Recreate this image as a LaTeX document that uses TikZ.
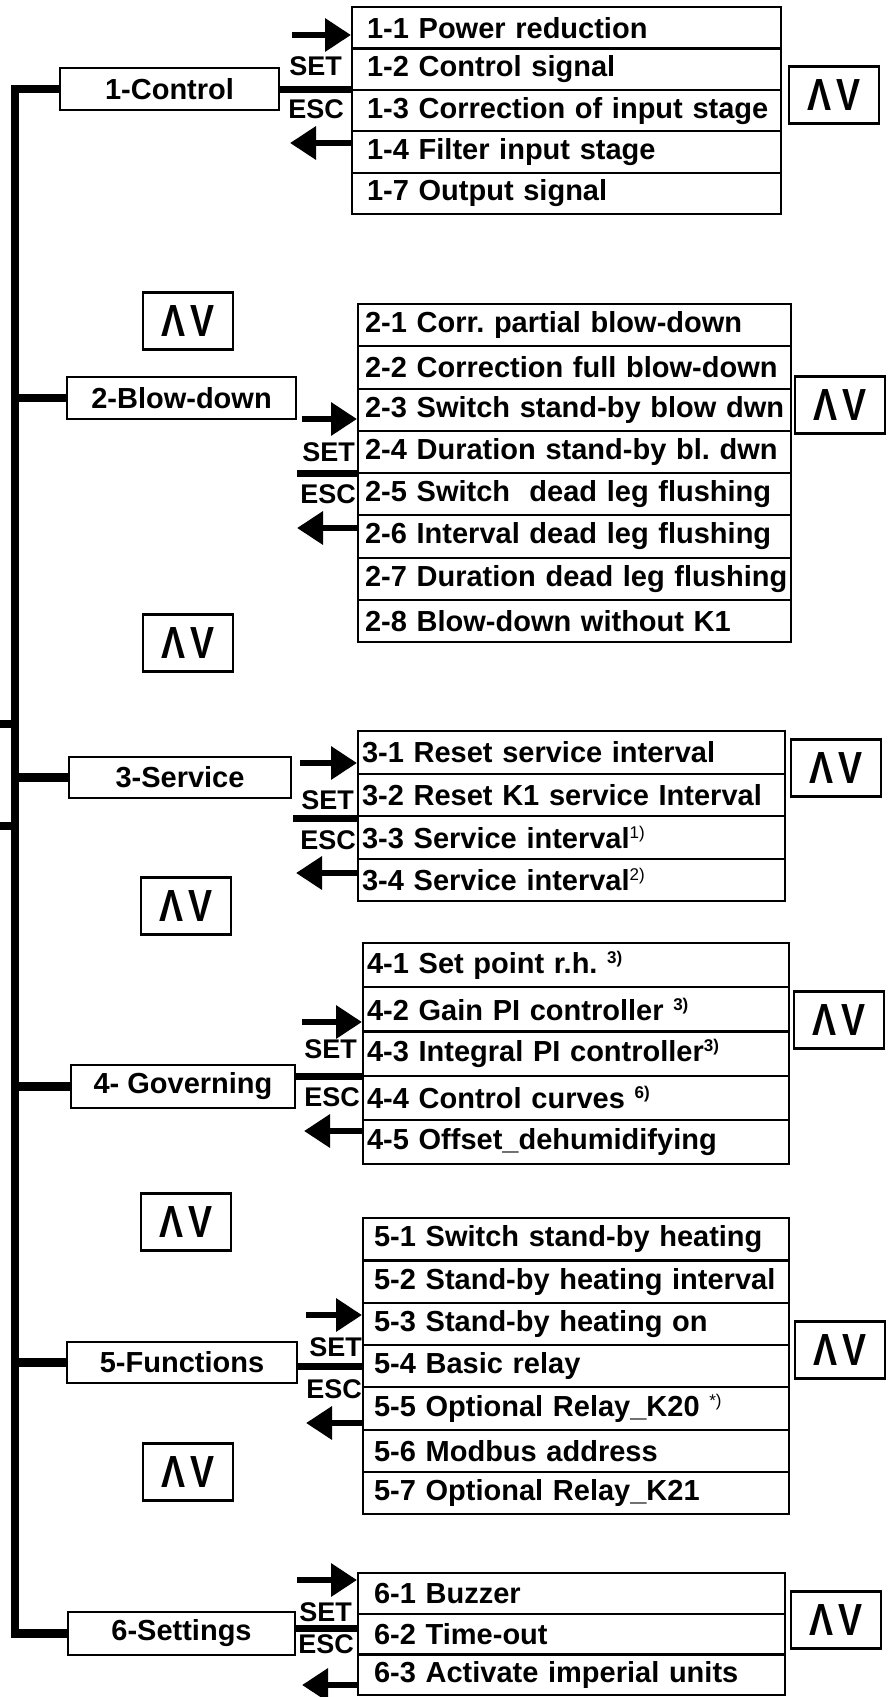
\documentclass[tikz,border=0pt]{standalone}
\usepackage{fontspec}
\setmainfont{Liberation Sans}
\usetikzlibrary{arrows.meta}
\frenchspacing
\newcommand\itemfont{\fontsize{29}{34}\selectfont\bfseries\frenchspacing}
\newcommand\keyfont{\fontsize{27}{30}\selectfont\bfseries}
\newcommand\supx[1]{\raisebox{10pt}{\fontsize{17}{17}\selectfont #1}}
\newcommand\supm[1]{\raisebox{10pt}{\fontsize{17}{17}\selectfont\mdseries #1}}
\newcommand\updown{\scalebox{0.8}[1]{Λ\hspace{7pt}V}}
\tikzset{
  itm/.style={draw, line width=2.2pt, anchor=north west, inner xsep=0pt, inner ysep=0pt,
              align=left, font=\itemfont},
  lbl/.style={draw, line width=2.2pt, inner sep=0pt, font=\itemfont},
  nav/.style={draw, line width=2.2pt, inner sep=0pt, minimum width=90pt, minimum height=57pt,
              font=\fontsize{45}{45}\selectfont\bfseries},
  key/.style={font=\keyfont, inner sep=0pt},
  bar/.style={line width=8.5pt},
  thk/.style={line width=7pt},
  arr/.style={line width=6.5pt, -{Triangle[length=26pt,width=32pt]}}
}
\begin{document}
\begin{tikzpicture}[x=1pt,y=-1pt]
\useasboundingbox (0,0) rectangle (892,1697);
\coordinate (bx) at (15,0);

% ---------------- Group 1
\foreach \t [count=\i] in {{1-1 Power reduction},{1-2 Control signal},{1-3 Correction of input stage},{1-4 Filter input stage},{1-7 Output signal}}
  \node[itm, text width=429pt, minimum height=41.4pt] (g1-\i) at (351,{6+41.4*(\i-1)}) {\hspace*{15pt}\t};
\node[lbl, minimum width=219pt, minimum height=42pt] (l1) at (169.5,89) {1-Control};
\node[nav] (n1) at (834,95) {\updown};
\node[key, anchor=east] (set1) at (342,66) {SET};
\node[key, anchor=east] (esc1) at (344,109) {ESC};
\coordinate (r1) at (292,35);
\coordinate (e1) at (290,143);
\draw[thk] (l1.east) -- (l1.east -| g1-1.west);
\draw[arr] (r1) -- (r1 -| g1-1.west);
\draw[arr] (e1 -| g1-1.west) -- (e1);

% ---------------- Group 2
\foreach \t [count=\i] in {{2-1 Corr. partial blow-down},{2-2 Correction full blow-down},{2-3 Switch stand-by blow dwn},{2-4 Duration stand-by bl. dwn},{2-5 Switch\ \ dead leg flushing},{2-6 Interval dead leg flushing},{2-7 Duration dead leg flushing},{2-8 Blow-down without K1}}
  \node[itm, text width=433pt, minimum height=42.25pt] (g2-\i) at (357,{303+42.25*(\i-1)}) {\hspace*{7pt}\t};
\node[lbl, minimum width=229pt, minimum height=42pt] (l2) at (181.5,398) {2-Blow-down};
\node[nav] (n2a) at (188,321) {\updown};
\node[nav] (n2b) at (840,405) {\updown};
\node[nav] (n2c) at (188,643) {\updown};
\node[key, anchor=east] (set2) at (355,452) {SET};
\node[key, anchor=east] (esc2) at (356,494) {ESC};
\coordinate (s2) at (297,473);
\coordinate (r2) at (302,419);
\coordinate (e2) at (297,528);
\draw[thk] (s2) -- (s2 -| g2-1.west);
\draw[arr] (r2) -- (r2 -| g2-1.west);
\draw[arr] (e2 -| g2-1.west) -- (e2);

% ---------------- Group 3
\foreach \t [count=\i] in {{3-1 Reset service interval},{3-2 Reset K1 service Interval},{3-3 Service interval\supm{1)}},{3-4 Service interval\supm{2)}}}
  \node[itm, text width=427pt, minimum height=42.5pt] (g3-\i) at (357,{730+42.5*(\i-1)}) {\hspace*{4pt}\t};
\node[lbl, minimum width=222pt, minimum height=41pt] (l3) at (180,777.5) {3-Service};
\node[nav] (n3a) at (836,768) {\updown};
\node[nav] (n3b) at (186,906) {\updown};
\node[key, anchor=east] (set3) at (354,800) {SET};
\node[key, anchor=east] (esc3) at (356,840) {ESC};
\coordinate (s3) at (293,818);
\coordinate (r3) at (300,763);
\coordinate (e3) at (296,873);
\draw[thk] (s3) -- (s3 -| g3-1.west);
\draw[arr] (r3) -- (r3 -| g3-1.west);
\draw[arr] (e3 -| g3-1.west) -- (e3);

% ---------------- Group 4
\foreach \t [count=\i] in {{4-1 Set point r.h. \supx{3)}},{4-2 Gain PI controller \supx{3)}},{4-3 Integral PI controller\supx{3)}},{4-4 Control curves \supx{6)}},{4-5 Offset\_dehumidifying}}
  \node[itm, text width=426pt, minimum height=44.2pt] (g4-\i) at (362,{942+44.2*(\i-1)}) {\hspace*{4pt}\t};
\node[lbl, minimum width=224pt, minimum height=43pt] (l4) at (183,1086.5) {4- Governing};
\node[nav] (n4a) at (839,1020) {\updown};
\node[nav] (n4b) at (186,1222) {\updown};
\node[key, anchor=east] (set4) at (357,1049) {SET};
\node[key, anchor=east] (esc4) at (360,1097) {ESC};
\coordinate (s4) at (296,1076);
\coordinate (r4) at (302,1022);
\coordinate (e4) at (304,1131);
\draw[thk] (s4) -- (s4 -| g4-1.west);
\draw[arr] (r4) -- (r4 -| g4-1.west);
\draw[arr] (e4 -| g4-1.west) -- (e4);

% ---------------- Group 5
\foreach \t [count=\i] in {{5-1 Switch stand-by heating},{5-2 Stand-by heating interval},{5-3 Stand-by heating on},{5-4 Basic relay},{5-5 Optional Relay\_K20 \supm{*)}},{5-6 Modbus address},{5-7 Optional Relay\_K21}}
  \node[itm, text width=426pt, minimum height=42.3pt] (g5-\i) at (362,{1217+42.3*(\i-1)}) {\hspace*{11pt}\t};
\node[lbl, minimum width=230pt, minimum height=41pt] (l5) at (182,1362.5) {5-Functions};
\node[nav] (n5a) at (840,1350) {\updown};
\node[nav] (n5b) at (188,1472) {\updown};
\node[key, anchor=east] (set5) at (362,1347) {SET};
\node[key, anchor=east] (esc5) at (362,1389) {ESC};
\coordinate (s5) at (297,1366);
\coordinate (r5) at (306,1315);
\coordinate (e5) at (306,1423);
\draw[thk] (s5) -- (s5 -| g5-1.west);
\draw[arr] (r5) -- (r5 -| g5-1.west);
\draw[arr] (e5 -| g5-1.west) -- (e5);

% ---------------- Group 6
\foreach \t [count=\i] in {{6-1 Buzzer},{6-2 Time-out},{6-3 Activate imperial units}}
  \node[itm, text width=427pt, minimum height=40.7pt] (g6-\i) at (357,{1572+40.7*(\i-1)}) {\hspace*{16pt}\t};
\node[lbl, minimum width=227pt, minimum height=43pt] (l6) at (181.5,1633.5) {6-Settings};
\node[nav] (n6) at (836,1620) {\updown};
\node[key, anchor=east] (set6) at (352,1612) {SET};
\node[key, anchor=east] (esc6) at (354,1644) {ESC};
\coordinate (s6) at (295,1628);
\coordinate (r6) at (297,1580);
\coordinate (e6) at (302,1685);
\draw[thk] (s6) -- (s6 -| g6-1.west);
\draw[arr] (r6) -- (r6 -| g6-1.west);
\draw[arr] (e6 -| g6-1.west) -- (e6);

% ---------------- main bar
\draw[bar] (l1.west) -- (l1.west -| bx) -- (l6.west -| bx) -- (l6.west);
\draw[bar] (l2.west -| bx) -- (l2.west);
\draw[bar] (l3.west -| bx) -- (l3.west);
\draw[bar] (l4.west -| bx) -- (l4.west);
\draw[bar] (l5.west -| bx) -- (l5.west);
\coordinate (st1) at (0,724);
\coordinate (st2) at (0,826);
\draw[bar] (st1) -- (st1 -| bx);
\draw[bar] (st2) -- (st2 -| bx);
\end{tikzpicture}
\end{document}
